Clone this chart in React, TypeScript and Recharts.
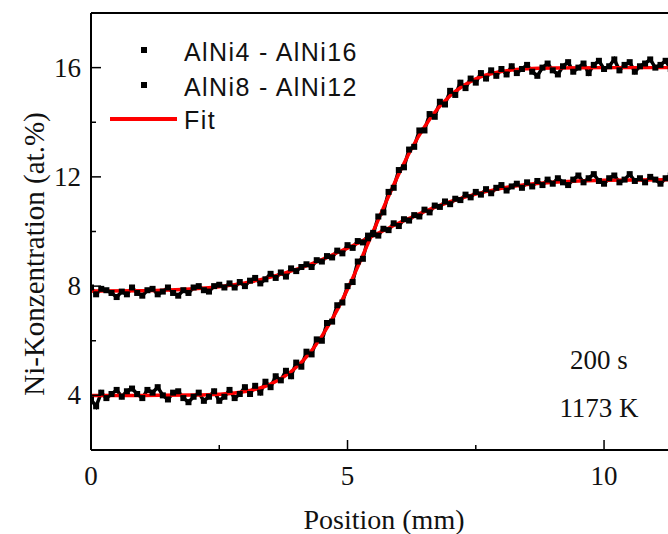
import { ComposedChart, Line, XAxis, YAxis, ReferenceLine } from 'recharts'

// measured profiles, [position mm, Ni at.%]
const ALNI4_ALNI16: [number, number][] = [
  [0, 3.85], [0.1, 3.6], [0.2, 4.1], [0.3, 3.9], [0.4, 4.05], [0.5, 4.2], [0.6, 3.95], [0.7, 4.15], [0.8, 4.25], [0.9, 4.05],
  [1, 3.9], [1.1, 4.2], [1.2, 4.1], [1.3, 4.3], [1.4, 4.0], [1.5, 3.85], [1.6, 4.1], [1.7, 4.15], [1.8, 3.9], [1.9, 3.75],
  [2, 3.95], [2.1, 4.1], [2.2, 3.8], [2.3, 3.95], [2.4, 4.15], [2.5, 3.8], [2.6, 3.95], [2.7, 4.2], [2.8, 3.9], [2.9, 4.05],
  [3, 4.3], [3.1, 4.05], [3.2, 4.35], [3.3, 4.1], [3.4, 4.5], [3.5, 4.3], [3.6, 4.7], [3.7, 4.55], [3.8, 4.9], [3.9, 4.7],
  [4, 5.2], [4.1, 5.05], [4.2, 5.6], [4.3, 5.5], [4.4, 6.05], [4.5, 6.0], [4.6, 6.65], [4.7, 6.7], [4.8, 7.3], [4.9, 7.4],
  [5, 8.0], [5.1, 8.15], [5.2, 8.9], [5.3, 9.0], [5.4, 9.75], [5.5, 9.9], [5.6, 10.55], [5.7, 10.7], [5.8, 11.45], [5.9, 11.6],
  [6, 12.25], [6.1, 12.35], [6.2, 13.0], [6.3, 13.1], [6.4, 13.7], [6.5, 13.7], [6.6, 14.3], [6.7, 14.2], [6.8, 14.75], [6.9, 14.65],
  [7, 15.15], [7.1, 15.0], [7.2, 15.45], [7.3, 15.25], [7.4, 15.6], [7.5, 15.45], [7.6, 15.8], [7.7, 15.6], [7.8, 15.9], [7.9, 15.7],
  [8, 15.95], [8.1, 15.75], [8.2, 16.05], [8.3, 15.8], [8.4, 15.95], [8.5, 16.1], [8.6, 15.85], [8.7, 15.7], [8.8, 16.0], [8.9, 16.15],
  [9, 15.9], [9.1, 15.75], [9.2, 16.05], [9.3, 16.2], [9.4, 15.85], [9.5, 16.0], [9.6, 16.15], [9.7, 15.8], [9.8, 16.1], [9.9, 16.25],
  [10, 15.95], [10.1, 16.05], [10.2, 16.3], [10.3, 15.9], [10.4, 16.1], [10.5, 16.2], [10.6, 15.85], [10.7, 16.05], [10.8, 16.15], [10.9, 16.3],
  [11, 16.0], [11.1, 16.1], [11.2, 16.25], [11.3, 15.95], [11.4, 16.1],
]

const ALNI8_ALNI12: [number, number][] = [
  [0, 7.95], [0.1, 7.7], [0.2, 7.9], [0.3, 7.85], [0.4, 7.75], [0.5, 7.6], [0.6, 7.8], [0.7, 7.7], [0.8, 7.95], [0.9, 7.75],
  [1, 7.65], [1.1, 7.85], [1.2, 7.9], [1.3, 7.7], [1.4, 7.8], [1.5, 7.95], [1.6, 7.75], [1.7, 7.65], [1.8, 7.85], [1.9, 7.75],
  [2, 7.95], [2.1, 8.0], [2.2, 7.85], [2.3, 7.8], [2.4, 8.0], [2.5, 8.05], [2.6, 7.95], [2.7, 8.1], [2.8, 7.95], [2.9, 8.15],
  [3, 8.0], [3.1, 8.2], [3.2, 8.3], [3.3, 8.1], [3.4, 8.25], [3.5, 8.45], [3.6, 8.3], [3.7, 8.5], [3.8, 8.35], [3.9, 8.65],
  [4, 8.55], [4.1, 8.7], [4.2, 8.8], [4.3, 8.7], [4.4, 8.95], [4.5, 8.9], [4.6, 9.1], [4.7, 9.05], [4.8, 9.3], [4.9, 9.2],
  [5, 9.5], [5.1, 9.4], [5.2, 9.65], [5.3, 9.6], [5.4, 9.85], [5.5, 9.95], [5.6, 9.85], [5.7, 10.1], [5.8, 10.05], [5.9, 10.3],
  [6, 10.2], [6.1, 10.45], [6.2, 10.4], [6.3, 10.6], [6.4, 10.55], [6.5, 10.8], [6.6, 10.7], [6.7, 10.95], [6.8, 10.9], [6.9, 11.1],
  [7, 11.0], [7.1, 11.2], [7.2, 11.15], [7.3, 11.35], [7.4, 11.25], [7.5, 11.45], [7.6, 11.35], [7.7, 11.55], [7.8, 11.4], [7.9, 11.6],
  [8, 11.7], [8.1, 11.5], [8.2, 11.65], [8.3, 11.75], [8.4, 11.6], [8.5, 11.8], [8.6, 11.65], [8.7, 11.85], [8.8, 11.7], [8.9, 11.9],
  [9, 11.75], [9.1, 11.95], [9.2, 11.8], [9.3, 11.7], [9.4, 11.9], [9.5, 12.05], [9.6, 11.8], [9.7, 11.95], [9.8, 12.1], [9.9, 11.85],
  [10, 11.75], [10.1, 11.95], [10.2, 12.05], [10.3, 11.8], [10.4, 11.9], [10.5, 12.1], [10.6, 11.85], [10.7, 11.95], [10.8, 11.8], [10.9, 12.0],
  [11, 11.9], [11.1, 11.75], [11.2, 11.95], [11.3, 12.05], [11.4, 11.85],
]

// fitted curves
const FIT_X = [0, 1, 2, 2.5, 3, 3.5, 4, 4.25, 4.5, 4.75, 5, 5.25, 5.5, 5.75, 6, 6.25, 6.5, 6.75, 7, 7.5, 8, 8.5, 9, 10, 11.5]
const FIT_LOWER = [4.0, 4.0, 4.01, 4.04, 4.14, 4.41, 5.03, 5.52, 6.17, 6.96, 7.89, 8.92, 10.0, 11.08, 12.11, 13.04, 13.83, 14.48, 14.97, 15.59, 15.86, 15.96, 15.99, 16.0, 16.0]
const FIT_UPPER = [7.82, 7.83, 7.9, 7.98, 8.12, 8.33, 8.61, 8.78, 8.97, 9.18, 9.39, 9.62, 9.85, 10.08, 10.31, 10.52, 10.73, 10.92, 11.09, 11.37, 11.58, 11.72, 11.8, 11.88, 11.9]

const X_TICKS = [0, 2.5, 5, 7.5, 10]
const X_LABELS = [0, 5, 10]
const Y_TICKS = [4, 6, 8, 10, 12, 14, 16]
const Y_LABELS = [4, 8, 12, 16]

const toPts = (rows: [number, number][]) => rows.map(([x, y]) => ({ x, y }))
const fitLower = FIT_X.map((x, i) => ({ x, y: FIT_LOWER[i] }))
const fitUpper = FIT_X.map((x, i) => ({ x, y: FIT_UPPER[i] }))

const SERIF = '"Liberation Serif", "Times New Roman", serif'
const SANS = '"Liberation Sans", Arial, sans-serif'

const Square = (p: any) => <rect key={p.index} x={p.cx - 3} y={p.cy - 3} width={6} height={6} fill="#000" />

const XTick = (p: any) => {
  const v = p.payload.value
  const major = X_LABELS.includes(v)
  return (
    <g>
      <line x1={p.x} x2={p.x} y1={p.y} y2={p.y - (major ? 10 : 5)} stroke="#000" strokeWidth={1.5} />
      {major && (
        <text x={p.x} y={p.y + 26} textAnchor="middle" dominantBaseline="central" fontFamily={SERIF} fontSize={27} fill="#111">
          {v}
        </text>
      )}
    </g>
  )
}

const YTick = (p: any) => {
  const v = p.payload.value
  const major = Y_LABELS.includes(v)
  return (
    <g>
      <line x1={p.x} x2={p.x + (major ? 10 : 5)} y1={p.y} y2={p.y} stroke="#000" strokeWidth={1.5} />
      {major && (
        <text x={p.x - 10} y={p.y} textAnchor="end" dominantBaseline="central" fontFamily={SERIF} fontSize={27} fill="#111">
          {v}
        </text>
      )}
    </g>
  )
}

export default function App() {
  return (
    <div style={{ position: 'fixed', left: 0, top: 0, width: 668, height: 534, overflow: 'hidden', background: '#fff' }}>
      <ComposedChart width={700} height={534} margin={{ top: 13, right: 19, left: 31, bottom: 44 }}>
        <XAxis
          type="number"
          dataKey="x"
          domain={[0, 11.5]}
          ticks={X_TICKS}
          allowDataOverflow
          tickLine={false}
          tickSize={0}
          tickMargin={0}
          height={40}
          axisLine={{ stroke: '#000', strokeWidth: 2 }}
          tick={<XTick />}
        />
        <YAxis
          type="number"
          dataKey="y"
          domain={[2, 18]}
          ticks={Y_TICKS}
          allowDataOverflow
          tickLine={false}
          tickSize={0}
          tickMargin={0}
          width={60}
          axisLine={{ stroke: '#000', strokeWidth: 2 }}
          tick={<YTick />}
        />
        <ReferenceLine y={18} stroke="#000" strokeWidth={2} />
        <Line data={toPts(ALNI4_ALNI16)} dataKey="y" type="linear" stroke="#000" strokeWidth={3.5} dot={Square} activeDot={false} isAnimationActive={false} />
        <Line data={toPts(ALNI8_ALNI12)} dataKey="y" type="linear" stroke="#000" strokeWidth={3.5} dot={Square} activeDot={false} isAnimationActive={false} />
        <Line data={fitLower} dataKey="y" type="monotone" stroke="#ff0000" strokeWidth={3.5} dot={false} activeDot={false} isAnimationActive={false} />
        <Line data={fitUpper} dataKey="y" type="monotone" stroke="#ff0000" strokeWidth={3.5} dot={false} activeDot={false} isAnimationActive={false} />
      </ComposedChart>

      {/* legend */}
      <div style={{ position: 'absolute', left: 141, top: 47, width: 6, height: 6, background: '#000' }} />
      <div style={{ position: 'absolute', left: 141, top: 82, width: 6, height: 6, background: '#000' }} />
      <div style={{ position: 'absolute', left: 110, top: 117, width: 67, height: 4, background: '#ff0000' }} />
      {[
        ['AlNi4 - AlNi16', 52],
        ['AlNi8 - AlNi12', 87],
        ['Fit', 120],
      ].map(([t, y]) => (
        <div
          key={t as string}
          style={{ position: 'absolute', left: 184, top: y as number, transform: 'translateY(-50%)', fontFamily: SANS, fontSize: 25, letterSpacing: 1.4, color: '#111', whiteSpace: 'nowrap', lineHeight: 1 }}
        >
          {t}
        </div>
      ))}

      {/* annotations */}
      <div style={{ position: 'absolute', left: 599, top: 360, transform: 'translate(-50%,-50%)', fontFamily: SERIF, fontSize: 27, color: '#111', whiteSpace: 'nowrap', lineHeight: 1 }}>
        200 s
      </div>
      <div style={{ position: 'absolute', left: 599, top: 408, transform: 'translate(-50%,-50%)', fontFamily: SERIF, fontSize: 27, color: '#111', whiteSpace: 'nowrap', lineHeight: 1 }}>
        1173 K
      </div>

      {/* axis titles */}
      <div style={{ position: 'absolute', left: 384, top: 520, transform: 'translate(-50%,-50%)', fontFamily: SERIF, fontSize: 28, color: '#111', whiteSpace: 'nowrap', lineHeight: 1 }}>
        Position (mm)
      </div>
      <div style={{ position: 'absolute', left: 34, top: 254, transform: 'translate(-50%,-50%) rotate(-90deg)', fontFamily: SERIF, fontSize: 29, color: '#111', whiteSpace: 'nowrap', lineHeight: 1 }}>
        Ni-Konzentration (at.%)
      </div>
    </div>
  )
}
